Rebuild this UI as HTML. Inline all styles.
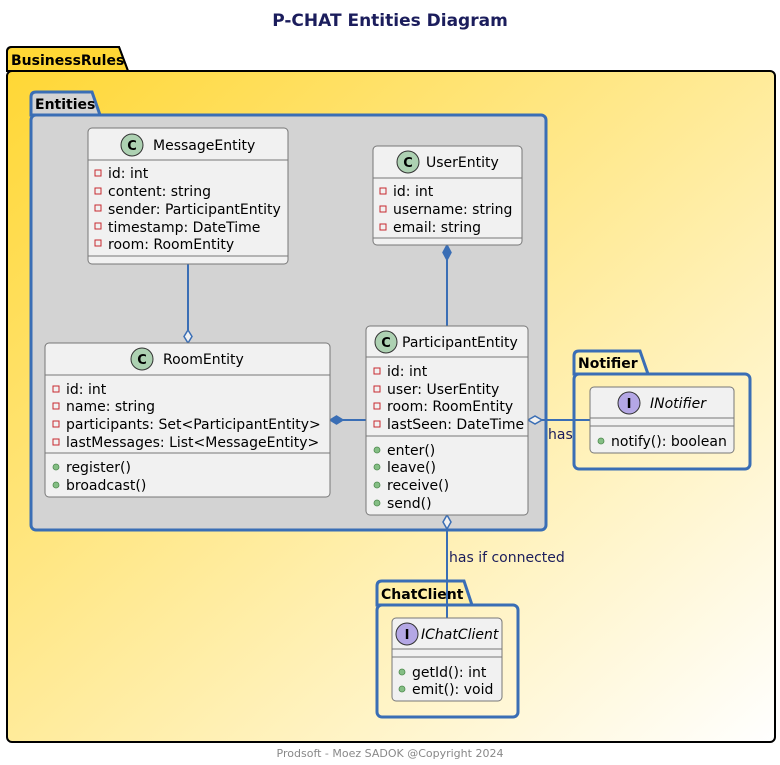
<!DOCTYPE html>
<html><head><meta charset="utf-8"><style>
html,body{margin:0;padding:0;background:#fff}
svg{display:block}
text{font-family:"DejaVu Sans","Liberation Sans",sans-serif}
</style></head><body>
<svg width="780" height="765" viewBox="0 0 780 765" xmlns="http://www.w3.org/2000/svg">
<defs>
<linearGradient id="yg" x1="0" y1="0" x2="1" y2="1">
<stop offset="0" stop-color="#FFD735"/><stop offset="1" stop-color="#FFFFFF"/>
</linearGradient>
<linearGradient id="tl" x1="0" y1="0" x2="1" y2="0">
<stop offset="0" stop-color="#3A6EB5"/><stop offset="1" stop-color="#40F0D0"/>
</linearGradient>
</defs>
<text x="390" y="26" text-anchor="middle" font-size="17" font-weight="bold" fill="#1B1D5C">P-CHAT Entities Diagram</text>

<!-- BusinessRules -->
<path d="M7,71 L7,52 Q7,47 12,47 L119,47 L128,71 Z" fill="#FFD735" stroke="#000" stroke-width="2"/>
<rect x="7" y="71" width="768" height="671" rx="5" fill="url(#yg)" stroke="#000" stroke-width="2"/>
<path d="M7,71 L7,52 Q7,47 12,47 L119,47 L128,71 Z" fill="#FFD735" stroke="#000" stroke-width="2"/>
<text x="11" y="65" font-size="14" font-weight="bold" fill="#000">BusinessRules</text>

<!-- Entities -->
<rect x="31" y="115" width="515" height="415" rx="5" fill="#D3D3D3" stroke="#3A6EB5" stroke-width="3"/>
<path d="M31,115 L31,97 Q31,92 36,92 L92,92 L100,115 Z" fill="#D3D3D3" stroke="#3A6EB5" stroke-width="3"/>
<line x1="33" y1="115" x2="101" y2="115" stroke="url(#tl)" stroke-width="3"/>
<text x="35" y="109" font-size="14" font-weight="bold" fill="#000">Entities</text>

<!-- Notifier pkg -->
<rect x="574" y="374" width="176" height="95" rx="5" fill="none" stroke="#3A6EB5" stroke-width="3"/>
<path d="M574,374 L574,356 Q574,351 579,351 L640,351 L648,374 Z" fill="#FFF3B0" stroke="#3A6EB5" stroke-width="3"/>
<line x1="576" y1="374" x2="648" y2="374" stroke="url(#tl)" stroke-width="3"/>
<text x="578" y="368" font-size="14" font-weight="bold" fill="#000">Notifier</text>

<!-- ChatClient pkg -->
<rect x="377" y="605" width="141" height="112" rx="5" fill="none" stroke="#3A6EB5" stroke-width="3"/>
<path d="M377,605 L377,586 Q377,581 382,581 L464,581 L472,605 Z" fill="#FFEFA8" stroke="#3A6EB5" stroke-width="3"/>
<line x1="379" y1="605" x2="472" y2="605" stroke="url(#tl)" stroke-width="3"/>
<text x="381" y="599" font-size="14" font-weight="bold" fill="#000">ChatClient</text>

<!-- connectors -->
<g stroke="#3A6EB5" stroke-width="2" fill="none">
<line x1="188" y1="264" x2="188" y2="330"/>
<line x1="447" y1="260" x2="447" y2="326"/>
<line x1="343" y1="420" x2="366" y2="420"/>
<line x1="542" y1="420" x2="590" y2="420"/>
<line x1="447" y1="529" x2="447" y2="618"/>
</g>
<path d="M188,343 L184,336.5 L188,330 L192,336.5 Z" fill="#F1F1F1" stroke="#3A6EB5" stroke-width="1.5"/>
<path d="M447,245 L443,252.5 L447,260 L451,252.5 Z" fill="#3A6EB5" stroke="#3A6EB5" stroke-width="1.5"/>
<path d="M330,420 L336.5,416 L343,420 L336.5,424 Z" fill="#3A6EB5" stroke="#3A6EB5" stroke-width="1.5"/>
<path d="M528,420 L535,416 L542,420 L535,424 Z" fill="#F1F1F1" stroke="#3A6EB5" stroke-width="1.5"/>
<path d="M447,515 L443,522 L447,529 L451,522 Z" fill="#F1F1F1" stroke="#3A6EB5" stroke-width="1.5"/>
<text x="548" y="439" font-size="14" fill="#1B1D5C">has</text>
<text x="449" y="562" font-size="14" fill="#1B1D5C">has if connected</text>

<!-- MessageEntity -->
<g font-size="14" fill="#000">
<rect x="88" y="128" width="200" height="136" rx="4" fill="#F1F1F1" stroke="#777" stroke-width="1"/>
<line x1="88" y1="160" x2="288" y2="160" stroke="#777"/>
<line x1="88" y1="256" x2="288" y2="256" stroke="#777"/>
<circle cx="132" cy="145" r="11" fill="#ADD1B2" stroke="#333"/>
<text x="132" y="150" text-anchor="middle" font-size="13" font-weight="bold">C</text>
<text x="153" y="150">MessageEntity</text>
<g fill="none" stroke="#C82930"><rect x="95" y="170" width="6" height="6"/><rect x="95" y="188" width="6" height="6"/><rect x="95" y="205" width="6" height="6"/><rect x="95" y="223" width="6" height="6"/><rect x="95" y="240" width="6" height="6"/></g>
<text x="108" y="178">id: int</text>
<text x="108" y="196">content: string</text>
<text x="108" y="214">sender: ParticipantEntity</text>
<text x="108" y="232">timestamp: DateTime</text>
<text x="108" y="249">room: RoomEntity</text>

<!-- UserEntity -->
<rect x="373" y="146" width="149" height="99" rx="4" fill="#F1F1F1" stroke="#777"/>
<line x1="373" y1="178" x2="522" y2="178" stroke="#777"/>
<line x1="373" y1="238" x2="522" y2="238" stroke="#777"/>
<circle cx="408" cy="162" r="11" fill="#ADD1B2" stroke="#333"/>
<text x="408" y="167" text-anchor="middle" font-size="13" font-weight="bold">C</text>
<text x="426" y="167">UserEntity</text>
<g fill="none" stroke="#C82930"><rect x="380" y="188" width="6" height="6"/><rect x="380" y="206" width="6" height="6"/><rect x="380" y="224" width="6" height="6"/></g>
<text x="393" y="196">id: int</text>
<text x="393" y="214">username: string</text>
<text x="393" y="232">email: string</text>

<!-- RoomEntity -->
<rect x="45" y="343" width="285" height="154" rx="4" fill="#F1F1F1" stroke="#777"/>
<line x1="45" y1="375" x2="330" y2="375" stroke="#777"/>
<line x1="45" y1="453" x2="330" y2="453" stroke="#777"/>
<circle cx="142" cy="359" r="11" fill="#ADD1B2" stroke="#333"/>
<text x="142" y="364" text-anchor="middle" font-size="13" font-weight="bold">C</text>
<text x="163" y="364">RoomEntity</text>
<g fill="none" stroke="#C82930"><rect x="53" y="386" width="6" height="6"/><rect x="53" y="403" width="6" height="6"/><rect x="53" y="421" width="6" height="6"/><rect x="53" y="439" width="6" height="6"/></g>
<text x="66" y="394">id: int</text>
<text x="66" y="411">name: string</text>
<text x="66" y="429">participants: Set&lt;ParticipantEntity&gt;</text>
<text x="66" y="447">lastMessages: List&lt;MessageEntity&gt;</text>
<g fill="#84BE84" stroke="#4E8A4E" stroke-width="0.8"><circle cx="56" cy="467" r="3"/><circle cx="56" cy="485" r="3"/></g>
<text x="66" y="472">register()</text>
<text x="66" y="490">broadcast()</text>

<!-- ParticipantEntity -->
<rect x="366" y="326" width="162" height="189" rx="4" fill="#F1F1F1" stroke="#777"/>
<line x1="366" y1="357" x2="528" y2="357" stroke="#777"/>
<line x1="366" y1="436" x2="528" y2="436" stroke="#777"/>
<circle cx="386" cy="342" r="11" fill="#ADD1B2" stroke="#333"/>
<text x="386" y="347" text-anchor="middle" font-size="13" font-weight="bold">C</text>
<text x="402" y="347">ParticipantEntity</text>
<g fill="none" stroke="#C82930"><rect x="374" y="368" width="6" height="6"/><rect x="374" y="386" width="6" height="6"/><rect x="374" y="403" width="6" height="6"/><rect x="374" y="421" width="6" height="6"/></g>
<text x="387" y="376">id: int</text>
<text x="387" y="394">user: UserEntity</text>
<text x="387" y="411">room: RoomEntity</text>
<text x="387" y="429">lastSeen: DateTime</text>
<g fill="#84BE84" stroke="#4E8A4E" stroke-width="0.8"><circle cx="377" cy="450" r="3"/><circle cx="377" cy="467" r="3"/><circle cx="377" cy="485" r="3"/><circle cx="377" cy="503" r="3"/></g>
<text x="387" y="455">enter()</text>
<text x="387" y="472">leave()</text>
<text x="387" y="490">receive()</text>
<text x="387" y="508">send()</text>

<!-- INotifier -->
<rect x="590" y="387" width="144" height="66" rx="4" fill="#F1F1F1" stroke="#777"/>
<line x1="590" y1="418" x2="734" y2="418" stroke="#777"/>
<line x1="590" y1="426" x2="734" y2="426" stroke="#777"/>
<circle cx="629" cy="403" r="11" fill="#B4A7E5" stroke="#333"/>
<text x="629" y="408" text-anchor="middle" font-size="13" font-weight="bold">I</text>
<text x="650" y="408" font-style="italic">INotifier</text>
<circle cx="601" cy="441" r="3" fill="#84BE84" stroke="#4E8A4E" stroke-width="0.8"/>
<text x="611" y="446">notify(): boolean</text>

<!-- IChatClient -->
<rect x="392" y="618" width="110" height="83" rx="4" fill="#F1F1F1" stroke="#777"/>
<line x1="392" y1="649" x2="502" y2="649" stroke="#777"/>
<line x1="392" y1="657" x2="502" y2="657" stroke="#777"/>
<circle cx="407" cy="634" r="11" fill="#B4A7E5" stroke="#333"/>
<text x="407" y="639" text-anchor="middle" font-size="13" font-weight="bold">I</text>
<text x="421" y="639" font-style="italic">IChatClient</text>
<g fill="#84BE84" stroke="#4E8A4E" stroke-width="0.8"><circle cx="402" cy="672" r="3"/><circle cx="402" cy="689" r="3"/></g>
<text x="412" y="677">getId(): int</text>
<text x="412" y="694">emit(): void</text>
</g>

<text x="390" y="757" text-anchor="middle" font-size="11" fill="#888">Prodsoft - Moez SADOK @Copyright 2024</text>
</svg>
</body></html>
